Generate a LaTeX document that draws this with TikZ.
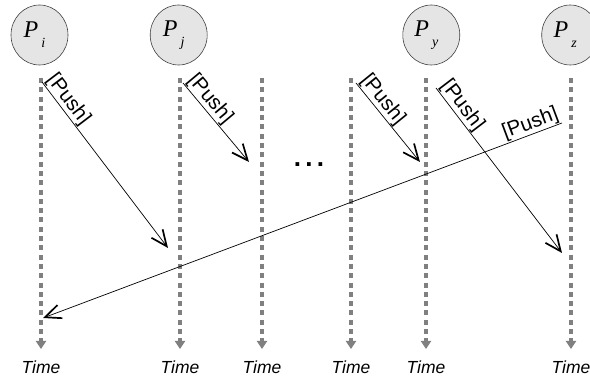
\documentclass[tikz,border=0pt]{standalone}
\usepackage{fontspec}
\setmainfont{Liberation Sans}
\newfontfamily\serifP{Liberation Serif}
\usetikzlibrary{arrows.meta,shapes.geometric}
\newcommand\Plab[1]{{\serifP\itshape\fontsize{24}{24}\selectfont P\kern3pt\raisebox{-10pt}{\fontsize{14}{14}\selectfont #1}\kern10pt}}
\begin{document}
\begin{tikzpicture}[x=1pt,y=-1pt,
  proc/.style={ellipse, draw=black!75, fill=black!10, line width=0.6pt, minimum width=57pt, minimum height=60pt, inner sep=0pt},
  timeline/.style={draw=black!50, line width=4pt, dash pattern=on 5pt off 4.3pt, -{Triangle[width=10pt,length=8pt]}},
  msg/.style={draw=black, line width=0.7pt, -{Straight Barb[length=16pt,width=14pt,line width=1.7pt]}},
  pushlbl/.style={font=\fontsize{20.5}{20.5}\selectfont, inner sep=0.5pt, sloped},
  timelbl/.style={font=\fontsize{17.5}{17.5}\selectfont\itshape, anchor=base, inner sep=0pt}]
\useasboundingbox (0,0) rectangle (590,379);
% processes
\node[proc] (pi) at (39.5,35) {\Plab{i}};
\node[proc] (pj) at (178.7,35) {\Plab{j}};
\node[proc] (py) at (431.3,35) {\Plab{y}};
\node[proc] (pz) at (570.2,35) {\Plab{z}};
% timelines
\foreach \n/\x in {1/41,2/180,3/262,4/351,5/426,6/571}{
  \coordinate (l\n t) at (\x,78);
  \coordinate (l\n b) at (\x,349);
  \node[timelbl] (time\n) at (\x,374) {Time};
  \draw[timeline] (l\n t) -- (l\n b);
}
% dots
\node[font=\bfseries\fontsize{26}{26}\selectfont, anchor=base, inner sep=0pt] (dots) at (309,167) {.\kern4.3pt.\kern4.3pt.};
% messages
\coordinate (a1s) at (42,82);  \coordinate (a1e) at (168,248);
\coordinate (a2s) at (183,83); \coordinate (a2e) at (249,162);
\coordinate (a3s) at (356,83); \coordinate (a3e) at (420,162);
\coordinate (a4s) at (436,88); \coordinate (a4e) at (562,253);
\coordinate (a5s) at (562,123); \coordinate (a5e) at (43,318);
\draw[msg] (a1s) -- node[pushlbl, pos=0, anchor=south west] (m1) {[Push]} (a1e);
\draw[msg] (a2s) -- node[pushlbl, pos=0, anchor=south west] (m2) {[Push]} (a2e);
\draw[msg] (a3s) -- node[pushlbl, pos=0, anchor=south west] (m3) {[Push]} (a3e);
\draw[msg] (a4s) -- node[pushlbl, pos=0, anchor=south west] (m4) {[Push]} (a4e);
\draw[msg] (a5s) -- node[pushlbl, pos=0, anchor=south east] (m5) {[Push]} (a5e);
\end{tikzpicture}
\end{document}
